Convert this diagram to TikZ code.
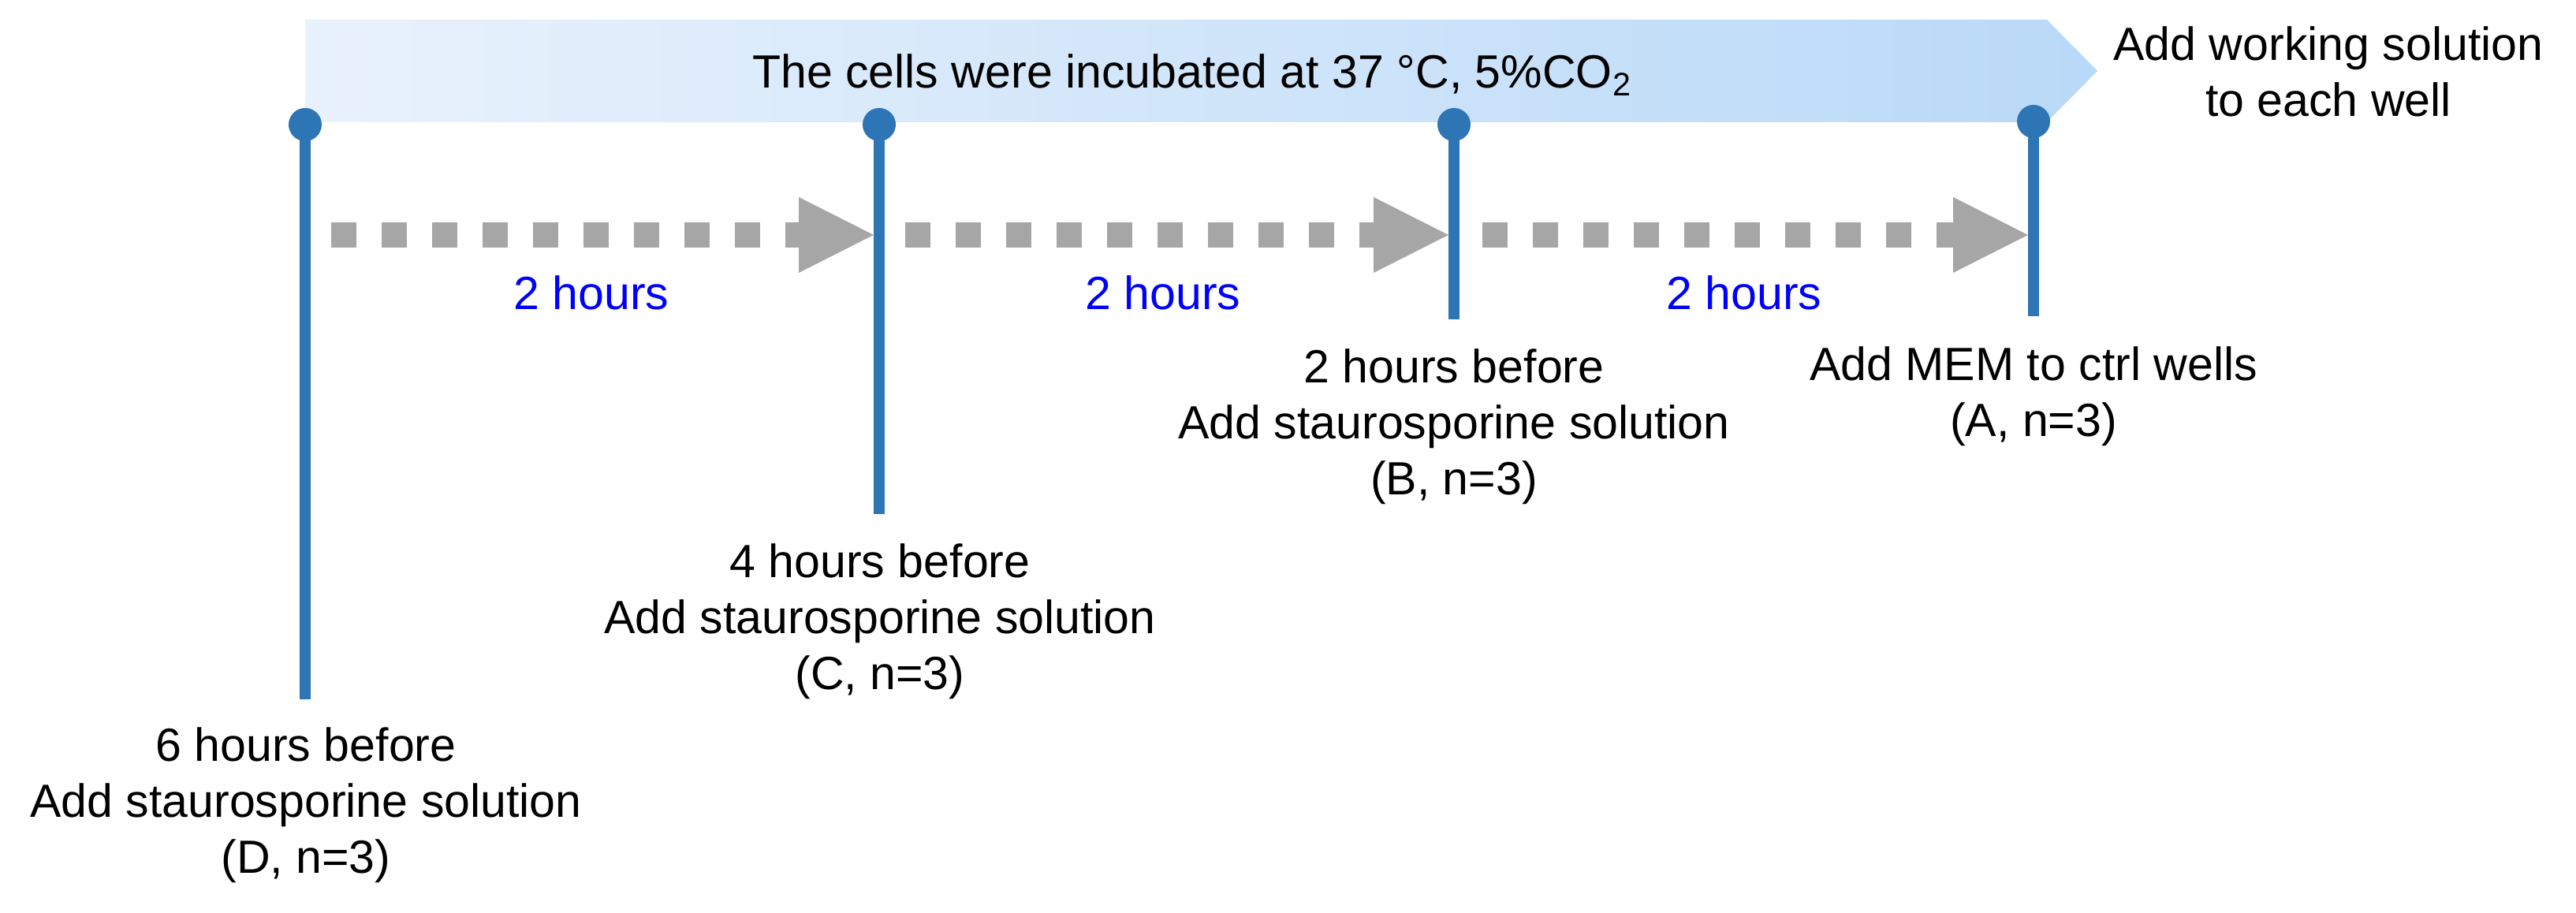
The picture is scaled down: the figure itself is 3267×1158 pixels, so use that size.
\documentclass[tikz,border=0pt]{standalone}
\usepackage{fontspec}
\setmainfont{Liberation Sans}
\definecolor{poleblue}{RGB}{46,117,182}
\definecolor{arrowgray}{RGB}{166,166,166}
\definecolor{bannerL}{RGB}{233,242,252}
\definecolor{bannerR}{RGB}{185,217,248}
\newcommand\figfont{\fontsize{16.8pt}{20.2pt}\selectfont}
\begin{document}
\begin{tikzpicture}[x=0.01cm,y=-0.01cm,
  dot/.style={circle,fill=poleblue,inner sep=0pt,minimum size=0.42cm},
  pole/.style={draw=poleblue,line width=0.14cm},
  dashline/.style={draw=arrowgray,line width=0.31cm,dash pattern=on 0.32cm off 0.32cm},
  headtri/.style={fill=arrowgray},
  lbl/.style={font=\figfont,inner sep=0pt,align=center,anchor=north},
  hrs/.style={font=\figfont,inner sep=0pt,text=blue,anchor=base}]
\useasboundingbox (0,0) rectangle (3267,1158);
% banner
\shade[left color=bannerL,right color=bannerR] (387,25) -- (2596,25) -- (2660,90) -- (2596,155) -- (387,155) -- cycle;
\node[font=\figfont,inner sep=0pt,anchor=base] (banner) at (1512,112) {The cells were incubated at 37 °C, 5\%CO\textsubscript{2}};
\node[lbl] (work) at (2953,33) {Add working solution\\to each well};
% dotted arrows
\coordinate (s1) at (420,298);  \coordinate (h1) at (1013,298); \coordinate (t1) at (1108,298);
\coordinate (s2) at (1148,298); \coordinate (h2) at (1742,298); \coordinate (t2) at (1837,298);
\coordinate (s3) at (1880,298); \coordinate (h3) at (2477,298); \coordinate (t3) at (2572,298);
\foreach \i in {1,2,3}{
  \draw[dashline] (s\i) -- (h\i);
  \fill[headtri] ([yshift=0.48cm]h\i) -- (t\i) -- ([yshift=-0.48cm]h\i) -- cycle;
}
% poles
\node[dot] (d1) at (387,158) {};  \coordinate (b1) at (387,887);
\node[dot] (d2) at (1115,158) {}; \coordinate (b2) at (1115,652);
\node[dot] (d3) at (1844,158) {}; \coordinate (b3) at (1844,405);
\node[dot] (d4) at (2579,154) {}; \coordinate (b4) at (2579,401);
\foreach \i in {1,2,3,4}{ \draw[pole] (d\i.center) -- (b\i); }
% labels
\node[lbl] (tD) at (388,922) {6 hours before\\Add staurosporine solution\\(D, n=3)};
\node[lbl] (tC) at (1116,689) {4 hours before\\Add staurosporine solution\\(C, n=3)};
\node[lbl] (tB) at (1844,442) {2 hours before\\Add staurosporine solution\\(B, n=3)};
\node[lbl] (tA) at (2579,439) {Add MEM to ctrl wells\\(A, n=3)};
\node[hrs] (hr1) at (750,393) {2 hours};
\node[hrs] (hr2) at (1475,393) {2 hours};
\node[hrs] (hr3) at (2212,393) {2 hours};
\end{tikzpicture}
\end{document}
